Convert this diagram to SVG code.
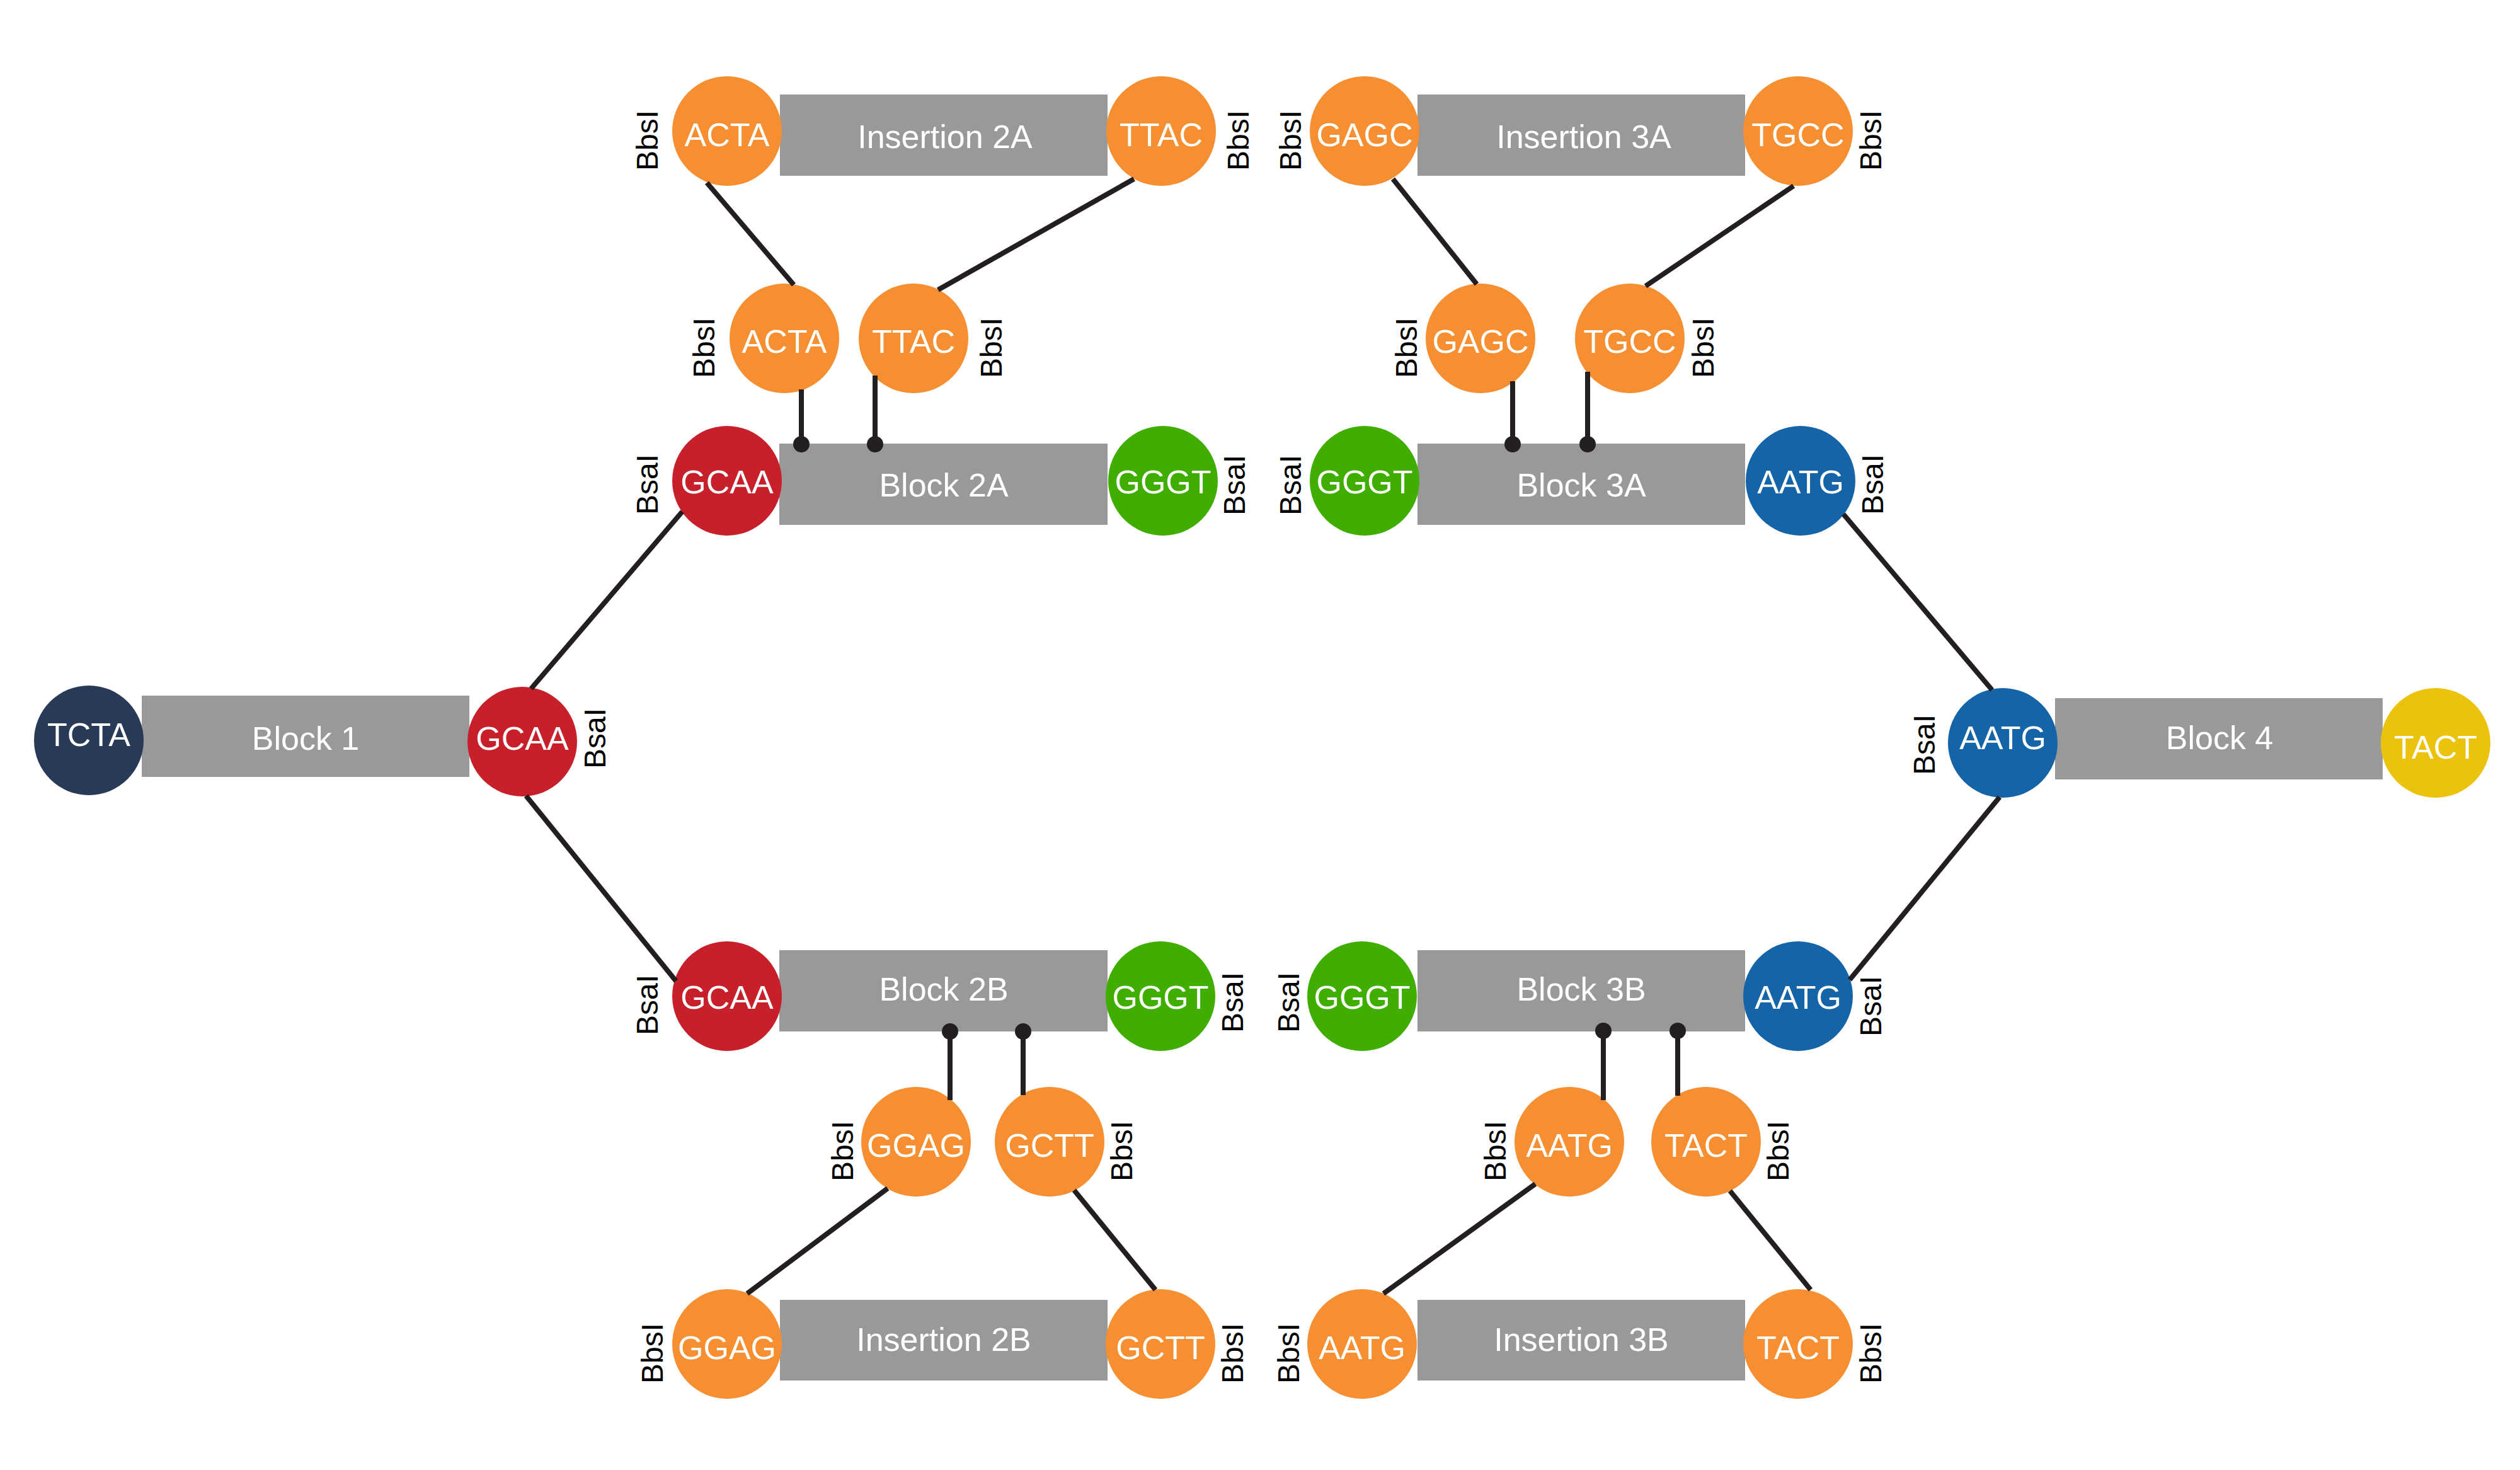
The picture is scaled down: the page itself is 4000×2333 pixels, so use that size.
<svg xmlns="http://www.w3.org/2000/svg" width="4000" height="2333" viewBox="0 0 4000 2333">
  <defs>
    <style>
      .blk rect { fill: #999999; }
      .blk text, .site text { font-family: "Liberation Sans", Arial, sans-serif; font-size: 52px; fill: #ffffff; text-anchor: middle; }
      .site circle { stroke: none; }
      .orange circle { fill: #F58F31; }
      .red circle { fill: #C8202B; }
      .green circle { fill: #3FAE00; }
      .blue circle { fill: #1664A8; }
      .navy circle { fill: #283A58; }
      .yellow circle { fill: #EBC30F; }
      .enz { font-family: "Liberation Sans", Arial, sans-serif; font-size: 48px; fill: #000000; text-anchor: middle; }
      .wire { stroke: #231F20; stroke-width: 8; fill: none; }
      .stem { stroke: #231F20; stroke-width: 8; fill: none; marker-end: url(#dot); }
    </style>
    <marker id="dot" markerUnits="userSpaceOnUse" markerWidth="30" markerHeight="30" refX="15" refY="15" orient="auto">
      <circle cx="15" cy="15" r="13" fill="#231F20"/>
    </marker>
  </defs>

  <rect width="4000" height="2333" fill="#ffffff"/>

  <!-- blocks -->
  <g id="block1" class="blk"><rect x="225" y="1104" width="520" height="129"/><text x="485" y="1190">Block 1</text></g>
  <g id="block4" class="blk"><rect x="3262" y="1108" width="520" height="129"/><text x="3523" y="1189">Block 4</text></g>
  <g id="insertion2A" class="blk"><rect x="1238" y="150" width="520" height="129"/><text x="1500" y="235">Insertion 2A</text></g>
  <g id="block2A" class="blk"><rect x="1237" y="704" width="521" height="129"/><text x="1498" y="788">Block 2A</text></g>
  <g id="block2B" class="blk"><rect x="1237" y="1508" width="521" height="129"/><text x="1498" y="1588">Block 2B</text></g>
  <g id="insertion2B" class="blk"><rect x="1238" y="2063" width="520" height="128"/><text x="1498" y="2144">Insertion 2B</text></g>
  <g id="insertion3A" class="blk"><rect x="2250" y="150" width="520" height="129"/><text x="2514" y="235">Insertion 3A</text></g>
  <g id="block3A" class="blk"><rect x="2250" y="704" width="520" height="129"/><text x="2510" y="788">Block 3A</text></g>
  <g id="block3B" class="blk"><rect x="2250" y="1508" width="520" height="129"/><text x="2510" y="1588">Block 3B</text></g>
  <g id="insertion3B" class="blk"><rect x="2250" y="2063" width="520" height="128"/><text x="2510" y="2144">Insertion 3B</text></g>

  <!-- overhang sites -->
  <g id="tcta-1" class="site navy"><circle cx="141" cy="1175" r="87"/><text x="141" y="1184">TCTA</text></g>
  <g id="gcaa-1" class="site red"><circle cx="829" cy="1177" r="87"/><text x="829" y="1190">GCAA</text></g>

  <g id="acta-ins2A" class="site orange"><circle cx="1154" cy="208" r="87"/><text x="1154" y="232">ACTA</text></g>
  <g id="ttac-ins2A" class="site orange"><circle cx="1843" cy="208" r="87"/><text x="1843" y="232">TTAC</text></g>
  <g id="acta-2A" class="site orange"><circle cx="1245" cy="537" r="87"/><text x="1245" y="560">ACTA</text></g>
  <g id="ttac-2A" class="site orange"><circle cx="1450" cy="537" r="87"/><text x="1450" y="560">TTAC</text></g>
  <g id="gcaa-2A" class="site red"><circle cx="1154" cy="763" r="87"/><text x="1154" y="783">GCAA</text></g>
  <g id="gggt-2A" class="site green"><circle cx="1846" cy="763" r="87"/><text x="1846" y="783">GGGT</text></g>

  <g id="gcaa-2B" class="site red"><circle cx="1154" cy="1581" r="87"/><text x="1154" y="1601">GCAA</text></g>
  <g id="gggt-2B" class="site green"><circle cx="1842" cy="1581" r="87"/><text x="1842" y="1601">GGGT</text></g>
  <g id="ggag-2B" class="site orange"><circle cx="1454" cy="1812" r="87"/><text x="1454" y="1836">GGAG</text></g>
  <g id="gctt-2B" class="site orange"><circle cx="1666" cy="1812" r="87"/><text x="1666" y="1836">GCTT</text></g>
  <g id="ggag-ins2B" class="site orange"><circle cx="1154" cy="2133" r="87"/><text x="1154" y="2157">GGAG</text></g>
  <g id="gctt-ins2B" class="site orange"><circle cx="1842" cy="2133" r="87"/><text x="1842" y="2157">GCTT</text></g>

  <g id="gagc-ins3A" class="site orange"><circle cx="2166" cy="208" r="87"/><text x="2166" y="232">GAGC</text></g>
  <g id="tgcc-ins3A" class="site orange"><circle cx="2854" cy="208" r="87"/><text x="2854" y="232">TGCC</text></g>
  <g id="gagc-3A" class="site orange"><circle cx="2350" cy="537" r="87"/><text x="2350" y="560">GAGC</text></g>
  <g id="tgcc-3A" class="site orange"><circle cx="2587" cy="537" r="87"/><text x="2587" y="560">TGCC</text></g>
  <g id="gggt-3A" class="site green"><circle cx="2166" cy="763" r="87"/><text x="2166" y="783">GGGT</text></g>
  <g id="aatg-3A" class="site blue"><circle cx="2858" cy="763" r="87"/><text x="2858" y="783">AATG</text></g>

  <g id="gggt-3B" class="site green"><circle cx="2162" cy="1581" r="87"/><text x="2162" y="1601">GGGT</text></g>
  <g id="aatg-3B" class="site blue"><circle cx="2854" cy="1581" r="87"/><text x="2854" y="1601">AATG</text></g>
  <g id="aatg-3Bi" class="site orange"><circle cx="2491" cy="1812" r="87"/><text x="2491" y="1836">AATG</text></g>
  <g id="tact-3B" class="site orange"><circle cx="2708" cy="1812" r="87"/><text x="2708" y="1836">TACT</text></g>
  <g id="aatg-ins3B" class="site orange"><circle cx="2162" cy="2133" r="87"/><text x="2162" y="2157">AATG</text></g>
  <g id="tact-ins3B" class="site orange"><circle cx="2854" cy="2133" r="87"/><text x="2854" y="2157">TACT</text></g>

  <g id="aatg-4" class="site blue"><circle cx="3179" cy="1179" r="87"/><text x="3179" y="1189">AATG</text></g>
  <g id="tact-4" class="site yellow"><circle cx="3866" cy="1179" r="87"/><text x="3866" y="1204">TACT</text></g>

  <!-- enzyme labels, read bottom to top -->
  <g id="enzyme-labels" class="enz">
    <text transform="translate(961,1172) rotate(-90)">BsaI</text>
    <text transform="translate(3071,1182) rotate(-90)">BsaI</text>

    <text transform="translate(1044,223) rotate(-90)">BbsI</text>
    <text transform="translate(1982,223) rotate(-90)">BbsI</text>
    <text transform="translate(1134,552) rotate(-90)">BbsI</text>
    <text transform="translate(1590,552) rotate(-90)">BbsI</text>
    <text transform="translate(1044,769) rotate(-90)">BsaI</text>
    <text transform="translate(1976,770) rotate(-90)">BsaI</text>

    <text transform="translate(1044,1595) rotate(-90)">BsaI</text>
    <text transform="translate(1973,1591) rotate(-90)">BsaI</text>
    <text transform="translate(1354,1827) rotate(-90)">BbsI</text>
    <text transform="translate(1797,1827) rotate(-90)">BbsI</text>
    <text transform="translate(1052,2148) rotate(-90)">BbsI</text>
    <text transform="translate(1973,2148) rotate(-90)">BbsI</text>

    <text transform="translate(2065,223) rotate(-90)">BbsI</text>
    <text transform="translate(2986,223) rotate(-90)">BbsI</text>
    <text transform="translate(2249,552) rotate(-90)">BbsI</text>
    <text transform="translate(2720,552) rotate(-90)">BbsI</text>
    <text transform="translate(2065,770) rotate(-90)">BsaI</text>
    <text transform="translate(2989,769) rotate(-90)">BsaI</text>

    <text transform="translate(2062,1591) rotate(-90)">BsaI</text>
    <text transform="translate(2986,1597) rotate(-90)">BsaI</text>
    <text transform="translate(2390,1827) rotate(-90)">BbsI</text>
    <text transform="translate(2839,1827) rotate(-90)">BbsI</text>
    <text transform="translate(2062,2148) rotate(-90)">BbsI</text>
    <text transform="translate(2986,2148) rotate(-90)">BbsI</text>
  </g>

  <!-- connectors -->
  <g id="connectors">
    <line class="wire" x1="843" y1="1093" x2="1083" y2="812"/>
    <line class="wire" x1="835" y1="1263" x2="1073" y2="1557"/>
    <line class="wire" x1="2926" y1="816" x2="3162" y2="1095"/>
    <line class="wire" x1="3174" y1="1265" x2="2936" y2="1555"/>

    <line class="wire" x1="1122" y1="290" x2="1260" y2="452"/>
    <line class="wire" x1="1800" y1="284" x2="1489" y2="460"/>
    <line class="wire" x1="2211" y1="284" x2="2344" y2="451"/>
    <line class="wire" x1="2847" y1="295" x2="2612" y2="454"/>

    <line class="wire" x1="1409" y1="1886" x2="1186" y2="2053"/>
    <line class="wire" x1="1705" y1="1889" x2="1834" y2="2047"/>
    <line class="wire" x1="2437" y1="1879" x2="2196" y2="2053"/>
    <line class="wire" x1="2746" y1="1890" x2="2874" y2="2047"/>

    <path class="stem" d="M1272 618 V705"/>
    <path class="stem" d="M1389 596 V705"/>
    <path class="stem" d="M2401 605 V705"/>
    <path class="stem" d="M2520 590 V705"/>

    <path class="stem" d="M1508 1746 V1637"/>
    <path class="stem" d="M1624 1738 V1637"/>
    <path class="stem" d="M2545 1746 V1636"/>
    <path class="stem" d="M2663 1739 V1636"/>
  </g>
</svg>
